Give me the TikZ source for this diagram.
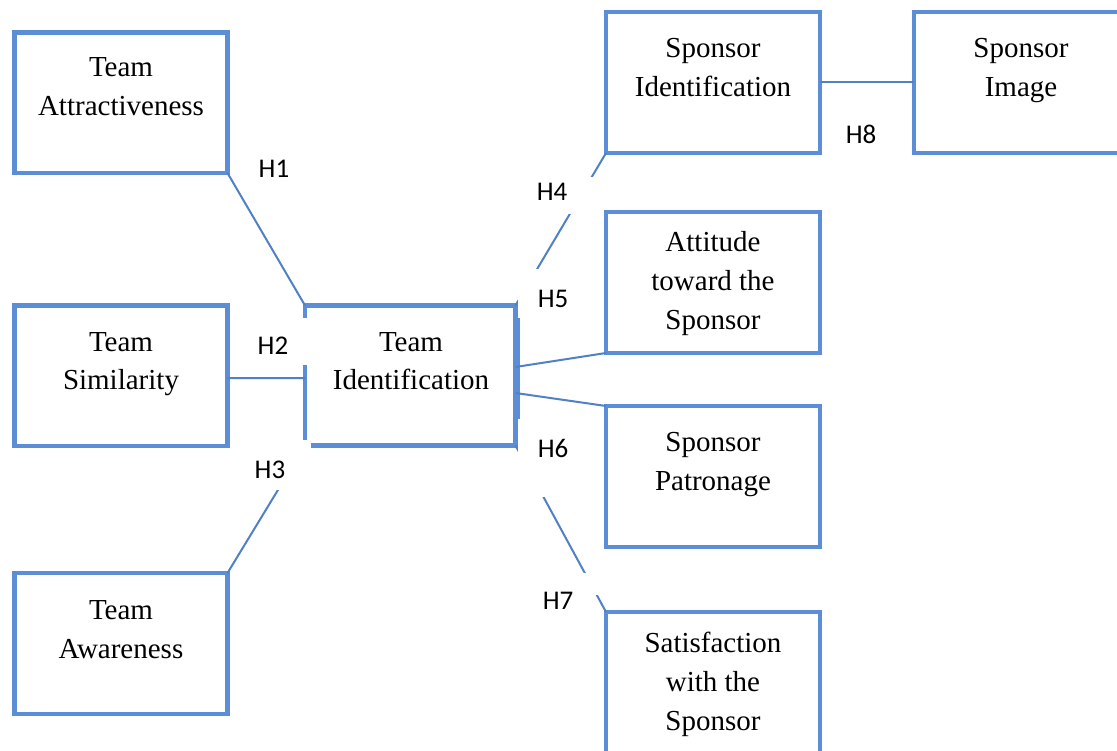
\documentclass[tikz,border=0pt]{standalone}
\usepackage{fontspec}
\setmainfont{Liberation Serif}
\newfontfamily\labfont{Carlito}
\usetikzlibrary{calc}
\definecolor{boxblue}{HTML}{5B8ED6}
\definecolor{lineblue}{HTML}{4F81C4}
\begin{document}
\begin{tikzpicture}[x=1pt,y=-1pt,
  box/.style={draw=boxblue, line width=4.5pt, rectangle, inner sep=0pt, outer sep=0pt},
  txt/.style={font=\fontsize{29}{39}\selectfont, align=center, anchor=base, inner sep=0pt},
  conn/.style={draw=lineblue, line width=2pt},
  hlab/.style={font=\labfont\fontsize{27}{30}\selectfont, inner sep=0pt},
  mask/.style={fill=white}]
\useasboundingbox (0,0) rectangle (1117,751);
\clip (0,0) rectangle (1117,751);
% boxes
\node[box, minimum width=213pt, minimum height=140.5pt] (att) at (121,102.75) {};
\node[box, minimum width=213pt, minimum height=140.5pt] (sim) at (121,375.75) {};
\node[box, minimum width=213pt, minimum height=141pt] (awa) at (121,643.5) {};
\node[box, minimum width=210.5pt, minimum height=140pt] (tid) at (410.25,375.5) {};
\node[box, minimum width=214pt, minimum height=141pt] (spid) at (713,82.5) {};
\node[box, minimum width=214pt, minimum height=141pt] (spim) at (1021,82.5) {};
\node[box, minimum width=214pt, minimum height=141pt] (attd) at (713,282.5) {};
\node[box, minimum width=214pt, minimum height=141pt] (pat) at (713,476.5) {};
\node[box, minimum width=214pt, minimum height=141pt] (sat) at (713,682.5) {};
% extra edge segment on Team Identification
\draw[draw=boxblue, line width=4pt] ($(tid.north east)+(2.5,13)$) coordinate (tr1) -- ($(tid.north east)+(2.5,113)$) coordinate (tr2);
% texts (anchor = baseline of the last line)
\node[txt] (att-t) at (121,116) {Team\\Attractiveness};
\node[txt] (sim-t) at (121,390) {Team\\Similarity};
\node[txt] (awa-t) at (121,658) {Team\\Awareness};
\node[txt] (tid-t) at (411,390) {Team\\Identification};
\node[txt] (spid-t) at (713,97) {Sponsor\\Identification};
\node[txt] (spim-t) at (1021,97) {Sponsor\\Image};
\node[txt] (attd-t) at (713,330) {Attitude\\toward the\\Sponsor};
\node[txt] (pat-t) at (713,490) {Sponsor\\Patronage};
\node[txt] (sat-t) at (713,730) {Satisfaction\\with the\\Sponsor};
% connectors
\draw[conn] (att.south east) -- (tid.north west);
\draw[conn] ($(sim.east)+(0,2.5)$) -- ($(tid.west)+(0,2.5)$);
\draw[conn] (awa.north east) -- (tid.south west);
\draw[conn] (tid.north east) -- (spid.south west);
\draw[conn] ($(tid.east)+(0,-8.5)$) -- (attd.south west);
\draw[conn] ($(tid.east)+(0,17.5)$) -- (pat.north west);
\draw[conn] (tid.south east) -- (sat.north west);
\draw[conn] (spid.east) -- (spim.west);
% label backgrounds
\fill[mask] (245,318) rectangle (308,365);
\fill[mask] (240,440) rectangle (311,490);
\fill[mask] (525,177) rectangle (600,214);
\fill[mask] (517.8,269) rectangle (592,303);
\fill[mask] (517.8,448) rectangle (592,497);
\fill[mask] (530,573) rectangle (598,595);
% labels
\node[hlab] (h1) at (274,169) {H1};
\node[hlab] (h2) at (273,346) {H2};
\node[hlab] (h3) at (270,470) {H3};
\node[hlab] (h4) at (552,192) {H4};
\node[hlab] (h5) at (553,299) {H5};
\node[hlab] (h6) at (553,448) {H6};
\node[hlab] (h7) at (558,601) {H7};
\node[hlab] (h8) at (861,134) {H8};
\end{tikzpicture}
\end{document}
